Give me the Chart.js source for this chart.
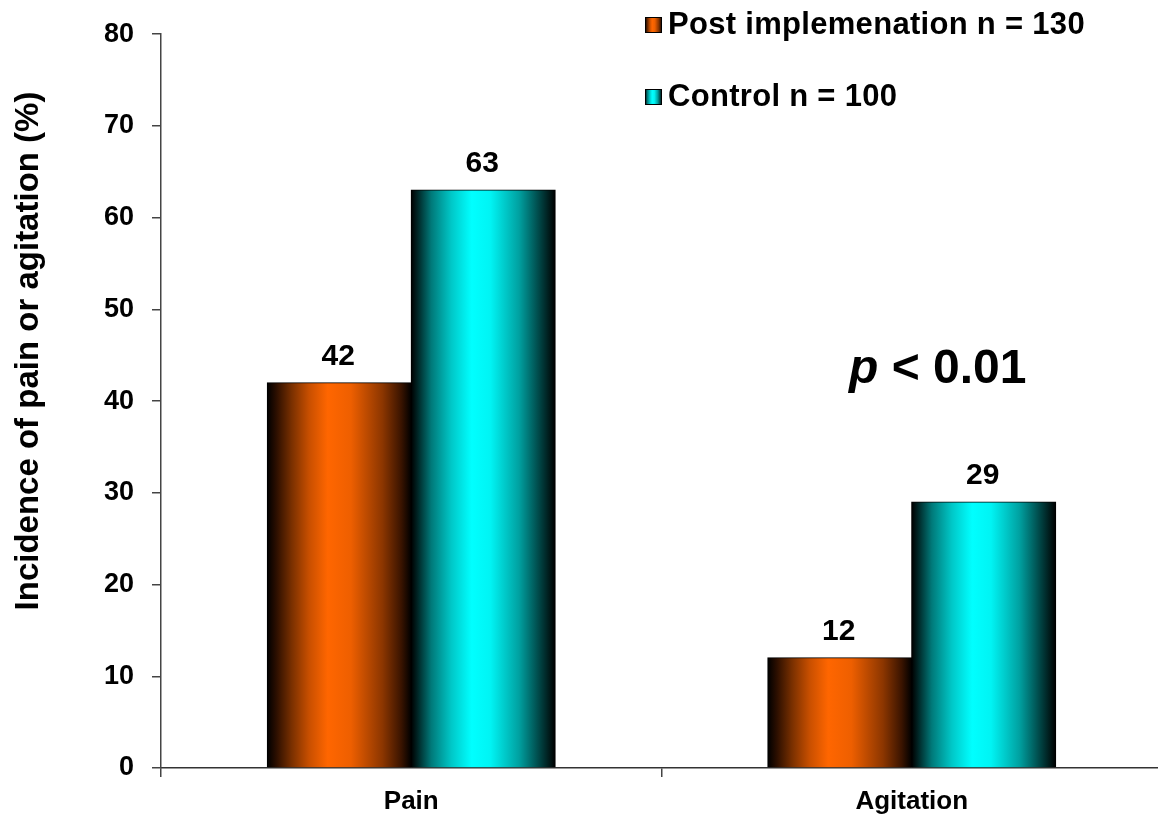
<!DOCTYPE html>
<html>
<head>
<meta charset="utf-8">
<script src="https://cdn.jsdelivr.net/npm/chart.js@4.4.1/dist/chart.umd.min.js"></script>
<style>
  html, body { margin: 0; padding: 0; background: #ffffff; overflow: hidden; width: 1158px; height: 814px; }
  canvas { display: block; }
</style>
</head>
<body>
<canvas id="chart" width="1162" height="814"></canvas>
<script>
// Incidence (%) of pain and agitation by group
const categories = ['Pain', 'Agitation'];
const postImplementation = [42, 12];
const control = [63, 29];
const seriesLabels = ['Post implemenation n = 130', 'Control n = 100'];
const yTickValues = [0, 10, 20, 30, 40, 50, 60, 70, 80];
const yAxisTitle = 'Incidence of pain or agitation (%)';
const pLetter = 'p';
const pRest = ' < 0.01';

const FONT = '"Liberation Sans", Arial, Helvetica, sans-serif';

// Horizontal shading across each bar: dark edges, bright band left of centre
const orangeStops = [
  [0, '#000000'], [0.06, '#2a0e00'], [0.17, '#7a3000'], [0.29, '#c84f00'],
  [0.42, '#ff6600'], [0.58, '#ee5f00'], [0.8, '#8c3600'], [0.93, '#3a1400'], [1, '#000000']
];
const cyanStops = [
  [0, '#000000'], [0.05, '#002a2a'], [0.14, '#007a7a'], [0.28, '#00c8c8'],
  [0.42, '#00ffff'], [0.55, '#00f4f4'], [0.75, '#00a0a0'], [0.9, '#004040'], [1, '#000000']
];
const seriesStops = [orangeStops, cyanStops];
const seriesSolid = ['#ff6600', '#00ffff'];

function shade(ctx, x0, x1, stops) {
  const g = ctx.createLinearGradient(x0, 0, x1, 0);
  stops.forEach(([o, c]) => g.addColorStop(o, c));
  return g;
}

function barFill(c) {
  const chart = c.chart;
  const meta = chart.getDatasetMeta(c.datasetIndex);
  const el = meta && meta.data ? meta.data[c.dataIndex] : null;
  if (!el || el.width === undefined || isNaN(el.x)) return seriesSolid[c.datasetIndex];
  return shade(chart.ctx, el.x - el.width / 2, el.x + el.width / 2, seriesStops[c.datasetIndex]);
}

// Value labels above bars, legend, axis title and significance note
const decorations = {
  id: 'decorations',
  afterDatasetsDraw(chart) {
    const ctx = chart.ctx;
    ctx.save();
    ctx.fillStyle = '#000000';
    ctx.textAlign = 'center';
    ctx.textBaseline = 'alphabetic';
    ctx.font = 'bold 30px ' + FONT;
    chart.data.datasets.forEach((ds, di) => {
      chart.getDatasetMeta(di).data.forEach((bar, i) => {
        ctx.fillText(String(ds.data[i]), bar.x - 1, bar.y - 18);
      });
    });
    ctx.restore();
  },
  afterDraw(chart) {
    const ctx = chart.ctx;
    ctx.save();

    // y-axis title
    ctx.fillStyle = '#000000';
    ctx.translate(29, 351);
    ctx.rotate(-Math.PI / 2);
    ctx.textAlign = 'center';
    ctx.textBaseline = 'middle';
    ctx.font = 'bold 33px ' + FONT;
    ctx.fillText(yAxisTitle, 0, 0);
    ctx.setTransform(1, 0, 0, 1, 0, 0);

    // legend
    const rows = [25, 97];
    chart.data.datasets.forEach((ds, di) => {
      const y = rows[di];
      ctx.fillStyle = shade(ctx, 645, 662, seriesStops[di]);
      ctx.fillRect(645, y - 8, 17, 16);
      ctx.strokeStyle = '#000000';
      ctx.lineWidth = 1;
      ctx.strokeRect(645.5, y - 7.5, 16, 15);
      ctx.fillStyle = '#000000';
      ctx.textAlign = 'left';
      ctx.textBaseline = 'middle';
      ctx.font = 'bold 31px ' + FONT;
      if ('letterSpacing' in ctx) ctx.letterSpacing = '0.3px';
      ctx.fillText(ds.label, 668, y);
      if ('letterSpacing' in ctx) ctx.letterSpacing = '0px';
    });

    // significance note
    ctx.textAlign = 'left';
    ctx.textBaseline = 'alphabetic';
    ctx.font = 'italic bold 48px ' + FONT;
    ctx.fillText(pLetter, 849, 383);
    const w = ctx.measureText(pLetter).width;
    ctx.font = 'bold 48px ' + FONT;
    ctx.fillText(pRest, 849 + w, 383);

    ctx.restore();
  }
};

function seriesDataset(i, values) {
  return {
    label: seriesLabels[i],
    data: values,
    backgroundColor: barFill,
    borderColor: '#000000',
    borderWidth: 1,
    inflateAmount: 0.6,
    barPercentage: 1.0,
    categoryPercentage: 0.575
  };
}

const chart = new Chart(document.getElementById('chart'), {
  type: 'bar',
  data: {
    labels: categories,
    datasets: [
      seriesDataset(0, postImplementation),
      seriesDataset(1, control)
    ]
  },
  options: {
    responsive: false,
    devicePixelRatio: 1,
    animation: false,
    layout: { padding: { top: 31, left: 0, right: 0, bottom: 0 } },
    plugins: {
      legend: { display: false },
      tooltip: { enabled: false },
      colors: { enabled: false }
    },
    scales: {
      x: {
        offset: true,
        grid: { offset: true, drawOnChartArea: false, drawTicks: true, tickLength: 9, color: '#444444', lineWidth: 1.5 },
        border: { color: '#333333', width: 1.5 },
        ticks: { color: '#000000', font: { family: FONT, size: 26, weight: 'bold' }, padding: 9 },
        afterFit(scale) { scale.height = 46; }
      },
      y: {
        min: 0,
        max: 80,
        afterBuildTicks(scale) { scale.ticks = yTickValues.map(v => ({ value: v })); },
        grid: { drawOnChartArea: false, drawTicks: true, tickLength: 9, color: '#444444', lineWidth: 1.5 },
        border: { color: '#444444', width: 1.5 },
        ticks: { color: '#000000', font: { family: FONT, size: 27, weight: 'bold' }, padding: 18 },
        afterFit(scale) { scale.width = 161; }
      }
    }
  },
  plugins: [decorations]
});
// second pass so each bar's shading follows its laid-out position
chart.update();
</script>
</body>
</html>
